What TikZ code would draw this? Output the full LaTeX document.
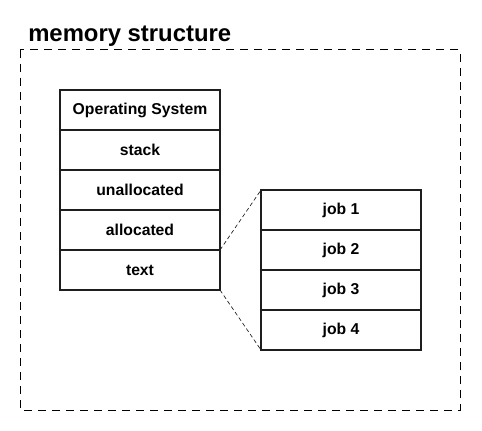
\documentclass[tikz,border=0pt]{standalone}
\usepackage{fontspec}
\setmainfont{Liberation Sans}
\usetikzlibrary{positioning}
\definecolor{msline}{RGB}{30,30,30}
\tikzstyle{memcell} = [rectangle, draw=msline, line width=1.3pt, fill=white, minimum width=120pt, minimum height=30pt, inner sep=0pt, outer sep=0pt, text centered, font=\fontsize{11.8}{13}\selectfont\bfseries]
\tikzstyle{zoomline} = [densely dashed, line width=0.5pt, color=msline]

\begin{document}
\begin{tikzpicture}[x=0.75pt, y=-0.75pt]
    \useasboundingbox (0,0) rectangle (482,431);
    % Frame
    \draw[dashed, line width=0.75pt, dash pattern=on 6pt off 4.5pt] (20,50) rectangle (460,410);
    \node[anchor=base west, inner sep=0pt, font=\fontsize{17.9}{20}\selectfont\bfseries] (title) at (28,42) {memory structure};

    % Memory layout
    \node[memcell] (os) at (140,110) {Operating System};
    \node[memcell, below=0pt of os] (stack) {stack};
    \node[memcell, below=0pt of stack] (unalloc) {unallocated};
    \node[memcell, below=0pt of unalloc] (alloc) {allocated};
    \node[memcell, below=0pt of alloc] (text) {text};

    % Jobs
    \node[memcell] (job1) at (341,210) {job 1};
    \node[memcell, below=0pt of job1] (job2) {job 2};
    \node[memcell, below=0pt of job2] (job3) {job 3};
    \node[memcell, below=0pt of job3] (job4) {job 4};

    % Zoom lines
    \draw[zoomline] (text.north east) -- (job1.north west);
    \draw[zoomline] (text.south east) -- (job4.south west);
\end{tikzpicture}
\end{document}
